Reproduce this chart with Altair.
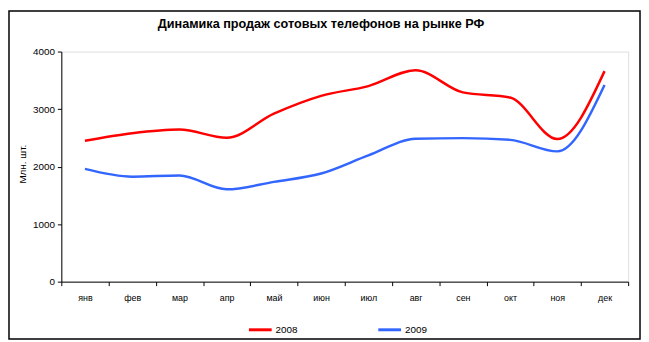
import altair as alt
import pandas as pd

months = ["янв", "фев", "мар", "апр", "май", "июн", "июл", "авг", "сен", "окт", "ноя", "дек"]
sales_2008 = [2450, 2580, 2645, 2500, 2920, 3230, 3400, 3675, 3290, 3200, 2480, 3660]
sales_2009 = [1960, 1825, 1845, 1605, 1735, 1880, 2195, 2485, 2495, 2465, 2265, 3420]
years = ["2008", "2009"]
colors = ["#FF0000", "#3366FF"]
title_text = "Динамика продаж сотовых телефонов на рынке РФ"

rows = []
for m, v in zip(months, sales_2008):
    rows.append({"month": m, "year": "2008", "value": v})
for m, v in zip(months, sales_2009):
    rows.append({"month": m, "year": "2009", "value": v})
df = pd.DataFrame(rows)

FONT = "Liberation Sans"
W, H = 574, 233

lines = alt.Chart(df).mark_line(strokeWidth=2.5, interpolate="monotone").encode(
    x=alt.X("month:N", sort=months,
            scale=alt.Scale(type="band", paddingInner=0, paddingOuter=0),
            axis=alt.Axis(title=None, labelAngle=0, tickBand="extent", tickSize=4,
                          labelPadding=8, labelFontSize=9, labelFont=FONT,
                          labelColor="black", domainColor="black", tickColor="black",
                          grid=False)),
    y=alt.Y("value:Q", scale=alt.Scale(domain=[0, 4000], nice=False),
            axis=alt.Axis(title="Млн. шт.", values=[0, 1000, 2000, 3000, 4000],
                          format="d",
                          tickSize=4, labelPadding=3, labelFontSize=10, labelFont=FONT,
                          labelColor="black", domainColor="black", tickColor="black",
                          titleFont=FONT, titleFontSize=10, titleFontWeight="normal",
                          titleColor="black", titleX=-34, titleY=H / 2 - 3,
                          grid=False)),
    color=alt.Color("year:N", scale=alt.Scale(domain=years, range=colors),
                    legend=alt.Legend(title=None, orient="none", direction="horizontal",
                                      legendX=188, legendY=268,
                                      symbolType="stroke", symbolSize=530,
                                      symbolStrokeWidth=3, labelFont=FONT,
                                      labelFontSize=10, labelColor="black",
                                      labelOffset=2, columnPadding=74)),
)

title = alt.Chart(pd.DataFrame({"t": [title_text]})).mark_text(
    font=FONT, fontSize=12.8, fontWeight="bold", color="black",
    align="center", baseline="middle"
).encode(text="t:N", x=alt.value(263), y=alt.value(-28))

border = alt.Chart(pd.DataFrame({"a": [0]})).mark_rect(
    fill=None, stroke="black", strokeWidth=1.5
).encode(
    x=alt.value(-53), x2=alt.value(586),
    y=alt.value(-41), y2=alt.value(291),
)

chart = alt.layer(lines, title, border).properties(
    width=W, height=H,
    padding={"left": 54, "top": 42, "right": 13, "bottom": 59},
    autosize=alt.AutoSizeParams(type="none"),
).configure_view(stroke=None).configure(background="white")

chart.save("out.html", embed_options={"renderer": "svg", "actions": False})
